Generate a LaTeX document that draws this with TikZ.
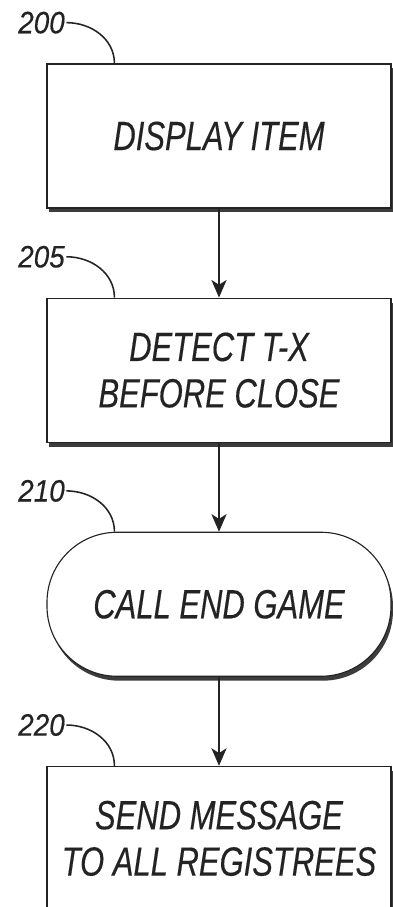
\documentclass[tikz,border=0pt]{standalone}
\usepackage{fontspec}
\setmainfont{Liberation Sans}
\newfontfamily\stepfont[FakeStretch=0.76, FakeBold=0.3]{Liberation Sans}
\newfontfamily\numfont[FakeStretch=0.9, FakeBold=0.3]{Liberation Sans}
\usepackage{tikz}
\usetikzlibrary{arrows.meta, positioning, shadows, calc}
\usepackage{xcolor}
\definecolor{inkgray}{RGB}{35,35,35}
\definecolor{shadegray}{RGB}{60,60,60}

\begin{document}
\begin{tikzpicture}[
    node distance=2.225cm,
    stepbox/.style={rectangle, draw=inkgray, line width=0.8pt, fill=white, minimum width=8.6cm, minimum height=3.6cm, align=center, font=\stepfont\itshape\fontsize{29}{33}\selectfont, text=inkgray, drop shadow={shadow xshift=0.05cm, shadow yshift=-0.11cm, fill=shadegray, opacity=1}},
    endbox/.style={stepbox, rounded corners=1.75cm},
    refnum/.style={font=\numfont\itshape\fontsize{22}{26}\selectfont, text=inkgray, anchor=east, inner sep=1pt},
    arr/.style={-{Stealth[length=4.4mm, width=3.8mm, inset=1.2mm]}, line width=0.8pt, color=inkgray},
    lead/.style={line width=1.1pt, color=inkgray}
]
    \useasboundingbox (0,0) rectangle (9.825,-22.675);

    \node (b200) [stepbox] at (5.475,-3.4) {DISPLAY ITEM};
    \node (b205) [stepbox, below=of b200] {DETECT T-X\\BEFORE CLOSE};
    \node (b210) [endbox, below=of b205] {CALL END GAME};
    \node (b220) [stepbox, below=of b210] {SEND MESSAGE\\TO ALL REGISTREES};

    % reference numerals
    \node (l200) [refnum] at ($(b200.north west)+(0.5,1.02)$) {200};
    \node (l205) [refnum] at ($(b205.north west)+(0.5,1.02)$) {205};
    \node (l210) [refnum] at ($(b210.north west)+(0.5,1.02)$) {210};
    \node (l220) [refnum] at ($(b220.north west)+(0.5,1.02)$) {220};

    \draw[lead] (l200.east) to[out=0, in=90] ($(b200.north west)+(1.7,0)$);
    \draw[lead] (l205.east) to[out=0, in=90] ($(b205.north west)+(1.7,0)$);
    \draw[lead] (l210.east) to[out=0, in=90] ($(b210.north west)+(1.7,0)$);
    \draw[lead] (l220.east) to[out=0, in=90] ($(b220.north west)+(1.7,0)$);

    \draw[arr] (b200) -- (b205);
    \draw[arr] (b205) -- (b210);
    \draw[arr] (b210) -- (b220);
\end{tikzpicture}
\end{document}
